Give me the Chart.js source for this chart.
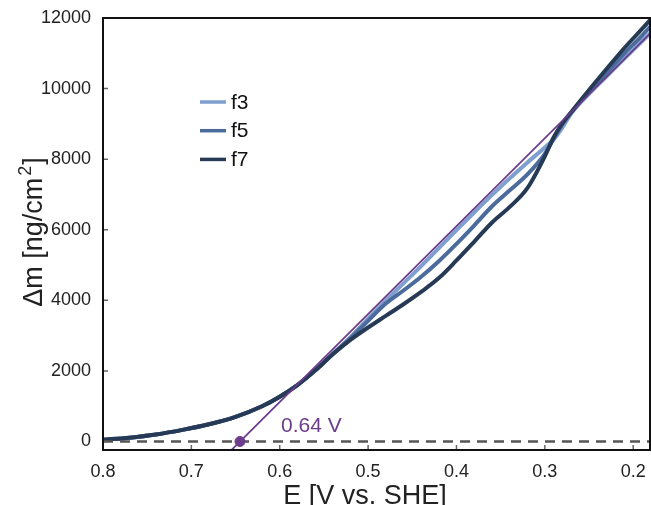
<!DOCTYPE html>
<html>
<head>
<meta charset="utf-8">
<script src="https://cdn.jsdelivr.net/npm/chart.js@4.4.1/dist/chart.umd.min.js"></script>
<style>
  body { margin: 0; background: #fff; overflow: hidden; }
  #wrap { width: 651px; height: 505px; }
</style>
</head>
<body>
<div id="wrap"><canvas id="chart"></canvas></div>
<script>
// potential [V vs. SHE], swept from 0.8 down to 0.18
var E = [0.80, 0.77, 0.74, 0.71, 0.68, 0.65, 0.62, 0.60, 0.58, 0.56, 0.54,
         0.52, 0.50, 0.48, 0.46, 0.44, 0.42, 0.40, 0.38, 0.36, 0.34, 0.32,
         0.30, 0.29, 0.28, 0.27, 0.25, 0.23, 0.21, 0.19, 0.181];

// mass change [ng/cm2] per overtone
var f3 = [50, 110, 200, 330, 490, 700, 1000, 1270, 1600, 2010, 2480,
          2960, 3480, 3990, 4480, 4970, 5480, 5990, 6490, 6980, 7450, 7900,
          8330, 8560, 8900, 9300, 9850, 10350, 10850, 11340, 11560];
var f5 = [50, 110, 200, 330, 490, 700, 1000, 1270, 1600, 2010, 2480,
          2930, 3420, 3910, 4280, 4670, 5110, 5600, 6120, 6660, 7110, 7560,
          8150, 8580, 9000, 9330, 9900, 10450, 11000, 11500, 11750];
var f7 = [50, 110, 200, 330, 490, 700, 1000, 1270, 1600, 2010, 2470,
          2880, 3230, 3560, 3890, 4240, 4630, 5130, 5660, 6200, 6640, 7170,
          8080, 8620, 9020, 9340, 9960, 10560, 11150, 11690, 11940];

// tangent line, onset point and zero reference
var tangentE = [0.655, 0.181];
var tangentM = [-250, 11560];
var onsetE = [0.645];
var onsetM = [0];
var zeroE = [0.8, 0.181];
var zeroM = [0, 0];

// tick labels
var xTicks = [0.8, 0.7, 0.6, 0.5, 0.4, 0.3, 0.2];
var yTicks = [0, 2000, 4000, 6000, 8000, 10000, 12000];

var purple = '#6b3b8c';
var font = '"Liberation Sans", Arial, Helvetica, sans-serif';

function pts(xs, ys) {
    return xs.map(function (v, i) { return { x: v, y: ys[i] }; });
}

var deco = {
    id: 'deco',
    afterDatasetsDraw: function (chart) {
        var ctx = chart.ctx, a = chart.chartArea;
        var x = chart.scales.x, y = chart.scales.y;
        ctx.save();
        // inward ticks
        ctx.strokeStyle = '#666';
        ctx.lineWidth = 1.5;
        ctx.beginPath();
        x.ticks.forEach(function (t) {
            var px = x.getPixelForValue(t.value);
            ctx.moveTo(px, a.bottom);
            ctx.lineTo(px, a.bottom - 5);
        });
        y.ticks.forEach(function (t) {
            var py = y.getPixelForValue(t.value);
            ctx.moveTo(a.left, py);
            ctx.lineTo(a.left + 5, py);
        });
        ctx.stroke();
        // frame
        ctx.strokeStyle = '#111';
        ctx.lineWidth = 2;
        ctx.strokeRect(a.left, a.top, a.right - a.left, a.bottom - a.top);

        // onset label
        ctx.fillStyle = purple;
        ctx.font = '21px ' + font;
        ctx.textAlign = 'left';
        ctx.textBaseline = 'alphabetic';
        ctx.fillText('0.64 V', x.getPixelForValue(onsetE[0]) + 41, y.getPixelForValue(0) - 10);

        // legend
        var items = [['f3', '#7f9fcf'], ['f5', '#4b6b9c'], ['f7', '#263a56']];
        ctx.font = '21px ' + font;
        ctx.textBaseline = 'middle';
        items.forEach(function (it, i) {
            var ly = a.top + 84 + i * 28.7;
            ctx.strokeStyle = it[1];
            ctx.lineWidth = 3.5;
            ctx.beginPath();
            ctx.moveTo(a.left + 97, ly);
            ctx.lineTo(a.left + 123, ly);
            ctx.stroke();
            ctx.fillStyle = '#111';
            ctx.fillText(it[0], a.left + 128, ly + 1);
        });

        // axis titles
        ctx.fillStyle = '#222';
        ctx.font = '27px ' + font;
        ctx.textAlign = 'center';
        ctx.textBaseline = 'alphabetic';
        ctx.fillText('E [V vs. SHE]', 365, 504);

        ctx.translate(42, 232);
        ctx.rotate(-Math.PI / 2);
        ctx.textAlign = 'left';
        ctx.font = '27px ' + font;
        var w1 = ctx.measureText('\u0394m [ng/cm').width;
        var w3 = ctx.measureText(']').width;
        ctx.font = '18px ' + font;
        var w2 = ctx.measureText('2').width;
        var x0 = -(w1 + w2 + w3 + 3) / 2;
        ctx.font = '27px ' + font;
        ctx.fillText('\u0394m [ng/cm', x0, 0);
        ctx.fillText(']', x0 + w1 + w2 + 3, 0);
        ctx.font = '18px ' + font;
        ctx.fillText('2', x0 + w1 + 2, -11);
        ctx.restore();
    }
};

new Chart(document.getElementById('chart'), {
    type: 'line',
    data: {
        datasets: [
            { label: 'onset', data: pts(onsetE, onsetM), showLine: false, pointRadius: 5,
              pointBackgroundColor: purple, pointBorderColor: purple, order: 0 },
            { label: 'tangent', data: pts(tangentE, tangentM), borderColor: purple,
              borderWidth: 1.8, pointRadius: 0, order: 1 },
            { label: 'zero', data: pts(zeroE, zeroM), borderColor: '#555', borderWidth: 2.5,
              borderDash: [10, 7], pointRadius: 0, order: 2 },
            { label: 'f7', data: pts(E, f7), borderColor: '#263a56', borderWidth: 4,
              pointRadius: 0, cubicInterpolationMode: 'monotone', order: 3 },
            { label: 'f5', data: pts(E, f5), borderColor: '#4b6b9c', borderWidth: 4,
              pointRadius: 0, cubicInterpolationMode: 'monotone', order: 4 },
            { label: 'f3', data: pts(E, f3), borderColor: '#7f9fcf', borderWidth: 4,
              pointRadius: 0, cubicInterpolationMode: 'monotone', order: 5 }
        ]
    },
    options: {
        responsive: true,
        maintainAspectRatio: false,
        animation: false,
        layout: { autoPadding: false, padding: { top: 18, right: 1, left: 0, bottom: 0 } },
        plugins: { legend: { display: false }, tooltip: { enabled: false } },
        scales: {
            x: {
                type: 'linear',
                reverse: true,
                min: 0.181,
                max: 0.8,
                grid: { display: false },
                border: { display: false },
                ticks: {
                    autoSkip: false,
                    maxRotation: 0,
                    padding: 3,
                    color: '#222',
                    font: { family: font, size: 18 },
                    callback: function (v) { return v.toFixed(1); }
                },
                afterBuildTicks: function (s) {
                    s.ticks = xTicks.map(function (v) { return { value: v }; });
                },
                afterFit: function (s) {
                    s.height = 55;
                    s.paddingLeft = 0;
                    s.paddingRight = 0;
                }
            },
            y: {
                min: -240,
                max: 12000,
                grid: { display: false },
                border: { display: false },
                ticks: {
                    padding: 4,
                    color: '#222',
                    font: { family: font, size: 18 },
                    callback: function (v) { return String(v); }
                },
                afterBuildTicks: function (s) {
                    s.ticks = yTicks.map(function (v) { return { value: v }; });
                },
                afterFit: function (s) {
                    s.width = 103;
                    s.paddingTop = 0;
                    s.paddingBottom = 0;
                }
            }
        }
    },
    plugins: [deco]
});
</script>
</body>
</html>
